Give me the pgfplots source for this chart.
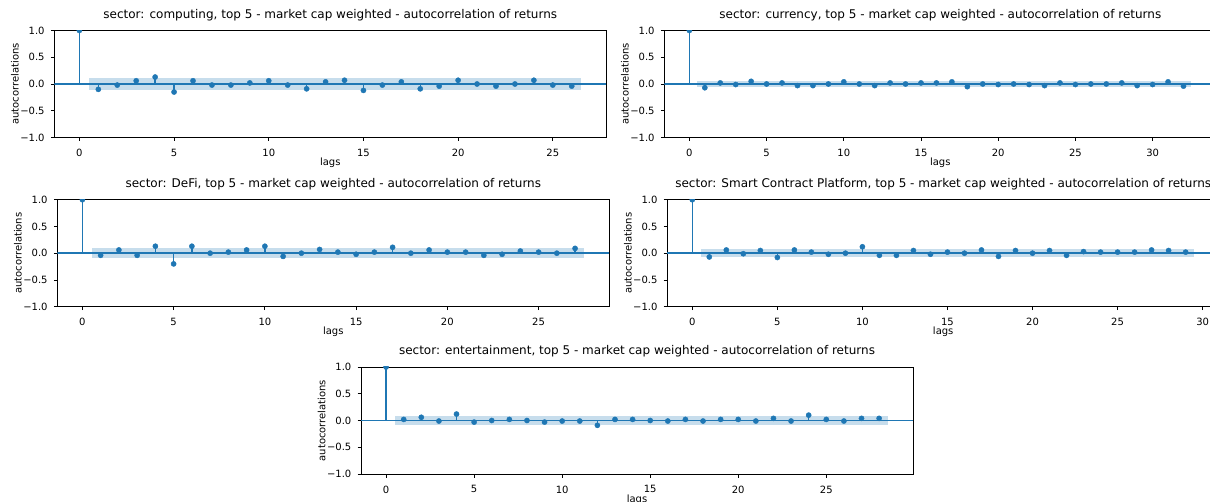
\documentclass[border=0pt]{standalone}
\usepackage{fontspec}
\setmainfont{DejaVu Sans}
\usepackage{pgfplots}
\pgfplotsset{compat=1.18}
\definecolor{c0}{HTML}{1F77B4}
\pgfplotsset{
  acf/.style={
    scale only axis, width=552bp, height=107bp,
    anchor=south west,
    ymin=-1, ymax=1,
    ytick={-1,-0.5,0,0.5,1},
    yticklabels={−1.0,−0.5,0.0,0.5,1.0},
    xtick distance=5,
    /pgf/number format/assume math mode=true,
    tick align=outside, tick pos=left,
    major tick length=3.5bp,
    every tick/.style={black, line width=0.8bp},
    axis line style={black, line width=0.8bp},
    ticklabel style={font=\fontsize{10bp}{12bp}\selectfont},
    xticklabel style={anchor=north, inner sep=0pt, yshift=-8bp},
    yticklabel style={anchor=east, inner sep=0pt, xshift=-6bp},
    title style={font=\fontsize{12bp}{14bp}\selectfont, at={(axis description cs:0.5,1)}, anchor=base, yshift=6.5bp, inner sep=0pt},
    xlabel=lags, ylabel=autocorrelations,
    xlabel style={font=\fontsize{10bp}{12bp}\selectfont, at={(axis description cs:0.5,-0.238)}, anchor=center},
    ylabel style={font=\fontsize{10bp}{12bp}\selectfont, at={(axis description cs:-0.0712,0.5)}, anchor=center},
    clip marker paths=true,
  },
  acfband/.style={fill=c0, fill opacity=0.25, draw=none, forget plot},
  acfzero/.style={c0, line width=1.5bp, forget plot},
  acfstem/.style={ycomb, c0, line width=1.5bp, mark=*, mark size=2.6bp, mark options={solid, fill=c0, draw=c0, line width=0.4bp}},
}
\begin{document}
\begin{tikzpicture}
\useasboundingbox (0,0) rectangle (1210bp,502bp);
% computing
\begin{axis}[acf, at={(54.3bp,364.5bp)}, xmin=-1.325, xmax=27.825,
  title={sector: computing, top 5 - market cap weighted - autocorrelation of returns}]
\addplot[acfband] coordinates {(0.5,-0.11) (26.5,-0.11) (26.5,0.11) (0.5,0.11)} -- cycle;
\addplot[acfzero] coordinates {(-1.325,0) (27.825,0)};
\addplot[acfstem] coordinates {(0,1)(1,-0.10)(2,-0.02)(3,0.06)(4,0.13)(5,-0.15)(6,0.06)(7,-0.02)(8,-0.02)(9,0.02)(10,0.06)(11,-0.02)(12,-0.09)(13,0.04)(14,0.07)(15,-0.12)(16,-0.02)(17,0.04)(18,-0.09)(19,-0.04)(20,0.07)(21,0.0)(22,-0.04)(23,0.0)(24,0.07)(25,-0.02)(26,-0.04)};
\end{axis}
% currency
\begin{axis}[acf, at={(664.3bp,364.5bp)}, xmin=-1.625, xmax=34.125,
  title={sector: currency, top 5 - market cap weighted - autocorrelation of returns}]
\addplot[acfband] coordinates {(0.5,-0.055) (32.5,-0.055) (32.5,0.055) (0.5,0.055)} -- cycle;
\addplot[acfzero] coordinates {(-1.625,0) (34.125,0)};
\addplot[acfstem] coordinates {(0,1)(1,-0.07)(2,0.02)(3,-0.01)(4,0.05)(5,0.0)(6,0.02)(7,-0.03)(8,-0.03)(9,0.0)(10,0.04)(11,0.0)(12,-0.03)(13,0.02)(14,0.0)(15,0.02)(16,0.02)(17,0.04)(18,-0.05)(19,0.0)(20,-0.01)(21,0.0)(22,-0.01)(23,-0.03)(24,0.02)(25,-0.01)(26,0.0)(27,0.0)(28,0.02)(29,-0.03)(30,-0.01)(31,0.04)(32,-0.04)};
\end{axis}
% DeFi
\begin{axis}[acf, at={(57.3bp,195.3bp)}, xmin=-1.375, xmax=28.875,
  title={sector: DeFi, top 5 - market cap weighted - autocorrelation of returns}]
\addplot[acfband] coordinates {(0.5,-0.095) (27.5,-0.095) (27.5,0.095) (0.5,0.095)} -- cycle;
\addplot[acfzero] coordinates {(-1.375,0) (28.875,0)};
\addplot[acfstem] coordinates {(0,1)(1,-0.04)(2,0.06)(3,-0.04)(4,0.13)(5,-0.20)(6,0.13)(7,0.0)(8,0.02)(9,0.06)(10,0.13)(11,-0.06)(12,0.0)(13,0.07)(14,0.02)(15,-0.02)(16,0.02)(17,0.11)(18,0.0)(19,0.06)(20,0.02)(21,0.02)(22,-0.04)(23,-0.02)(24,0.04)(25,0.02)(26,0.0)(27,0.09)};
\end{axis}
% Smart Contract Platform
\begin{axis}[acf, at={(667.2bp,195.3bp)}, xmin=-1.475, xmax=30.975,
  title={sector: Smart Contract Platform, top 5 - market cap weighted - autocorrelation of returns}]
\addplot[acfband] coordinates {(0.5,-0.075) (29.5,-0.075) (29.5,0.075) (0.5,0.075)} -- cycle;
\addplot[acfzero] coordinates {(-1.475,0) (30.975,0)};
\addplot[acfstem] coordinates {(0,1)(1,-0.07)(2,0.06)(3,-0.01)(4,0.05)(5,-0.08)(6,0.06)(7,0.02)(8,-0.02)(9,0.0)(10,0.12)(11,-0.04)(12,-0.04)(13,0.05)(14,-0.02)(15,0.02)(16,0.0)(17,0.06)(18,-0.06)(19,0.05)(20,0.0)(21,0.05)(22,-0.04)(23,0.03)(24,0.02)(25,0.02)(26,0.02)(27,0.06)(28,0.05)(29,0.02)};
\end{axis}
% entertainment
\begin{axis}[acf, at={(361bp,28bp)}, xmin=-1.425, xmax=29.925,
  title={sector: entertainment, top 5 - market cap weighted - autocorrelation of returns}]
\addplot[acfband] coordinates {(0.5,-0.087) (28.5,-0.087) (28.5,0.087) (0.5,0.087)} -- cycle;
\addplot[acfzero] coordinates {(-1.425,0) (29.925,0)};
\addplot[acfstem] coordinates {(0,1)(1,0.02)(2,0.06)(3,-0.01)(4,0.12)(5,-0.03)(6,0.0)(7,0.02)(8,0.0)(9,-0.03)(10,-0.01)(11,-0.01)(12,-0.09)(13,0.02)(14,0.02)(15,0.0)(16,-0.01)(17,0.02)(18,-0.01)(19,0.02)(20,0.02)(21,-0.01)(22,0.04)(23,-0.01)(24,0.10)(25,0.02)(26,-0.01)(27,0.04)(28,0.04)};
\end{axis}
\end{tikzpicture}
\end{document}
